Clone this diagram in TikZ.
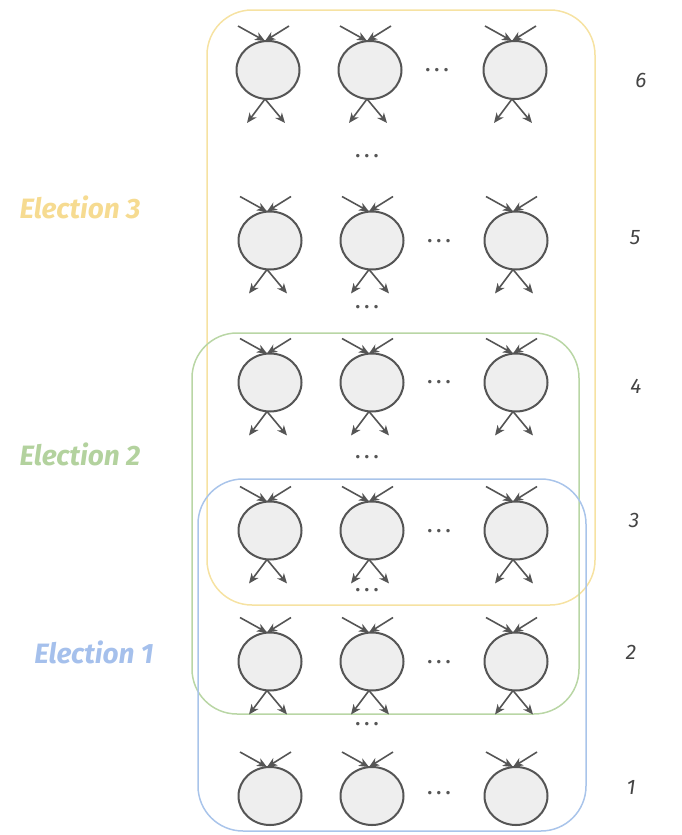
\documentclass[tikz,border=0pt]{standalone}
\usepackage{fontspec}
\setmainfont{Fira Sans}
\usetikzlibrary{shapes.geometric,arrows.meta}
\definecolor{ringc}{HTML}{555555}
\definecolor{fillc}{HTML}{EEEEEE}
\definecolor{yel}{HTML}{F6E2A2}
\definecolor{grn}{HTML}{B9D6A5}
\definecolor{blu}{HTML}{A9C4EA}
\definecolor{yeltxt}{HTML}{F6DB91}
\definecolor{grntxt}{HTML}{B3D29E}
\definecolor{blutxt}{HTML}{A5C0EC}
\definecolor{numc}{HTML}{444444}
\tikzset{
  nodecirc/.style={ellipse, draw=ringc, fill=fillc, line width=2pt, minimum width=63pt, minimum height=58pt, inner sep=0pt},
  arr/.style={draw=ringc, line width=1.6pt, -{Stealth[length=10pt,width=8.5pt,inset=3pt]}},
  grp/.style={rounded corners=45pt, line width=1.5pt},
  dotstxt/.style={anchor=base, text=ringc, font=\bfseries\fontsize{19}{19}\selectfont, inner sep=0pt},
  eltxt/.style={font=\bfseries\itshape\fontsize{28}{28}\selectfont, inner sep=0pt},
  numtxt/.style={font=\itshape\fontsize{21}{21}\selectfont, text=numc, inner sep=0pt}
}
\begin{document}
\begin{tikzpicture}[x=1pt,y=-1pt]
\useasboundingbox (0,0) rectangle (681,835);
% groups
\draw[grp, draw=yel] (207,10) rectangle (595,605);
\draw[grp, draw=grn] (192,333) rectangle (579,714);
\draw[grp, draw=blu] (198,479) rectangle (586,831);
% nodes
\foreach \r/\y/\xa/\xb/\xc in {6/70/268/370/515, 5/240.5/270/372/516, 4/382.5/270/372/516, 3/530.5/270/372/516, 2/661.5/270/372/516, 1/796/270/372/516}{
  \foreach \c/\x in {1/\xa, 2/\xb, 3/\xc}{
    \node[nodecirc] (n\r\c) at (\x,\y) {};
    \coordinate (ia\r\c) at (\x-30,\y-44);
    \coordinate (ib\r\c) at (\x+21,\y-44);
    \draw[arr] (ia\r\c) -- ([xshift=-3pt,yshift=-1pt]n\r\c.north);
    \draw[arr] (ib\r\c) -- ([xshift=-3pt,yshift=-1pt]n\r\c.north);
  }
}
\foreach \r/\y/\xa/\xb/\xc in {6/70/268/370/515, 5/240.5/270/372/516, 4/382.5/270/372/516, 3/530.5/270/372/516, 2/661.5/270/372/516}{
  \foreach \c/\x in {1/\xa, 2/\xb, 3/\xc}{
    \coordinate (oa\r\c) at (\x-21,\y+53);
    \coordinate (ob\r\c) at (\x+17,\y+53);
    \draw[arr] ([xshift=-3pt,yshift=1pt]n\r\c.south) -- (oa\r\c);
    \draw[arr] ([xshift=-3pt,yshift=1pt]n\r\c.south) -- (ob\r\c);
  }
}
% horizontal dots
\foreach \r/\x/\y in {6/437/69, 5/439/240, 4/439/381, 3/439/530, 2/439/661, 1/439/792}{
  \node[dotstxt] (hd\r) at (\x,\y+2.5) {.\ .\ .};
}
% vertical dots
\foreach \k/\y in {a/155, b/306, c/456, d/589, e/723}{
  \node[dotstxt] (vd\k) at (367,\y+2.5) {.\ .\ .};
}
% labels
\node[eltxt, text=yeltxt] (l3) at (80,207) {Election 3};
\node[eltxt, text=grntxt] (l2) at (80,454) {Election 2};
\node[eltxt, text=blutxt] (l1) at (94,652) {Election 1};
% numbers
\node[numtxt] (r6) at (641,80) {6};
\node[numtxt] (r5) at (635,238) {5};
\node[numtxt] (r4) at (636,386) {4};
\node[numtxt] (r3) at (634,520) {3};
\node[numtxt] (r2) at (631,652) {2};
\node[numtxt] (r1) at (631,787) {1};
\end{tikzpicture}
\end{document}
